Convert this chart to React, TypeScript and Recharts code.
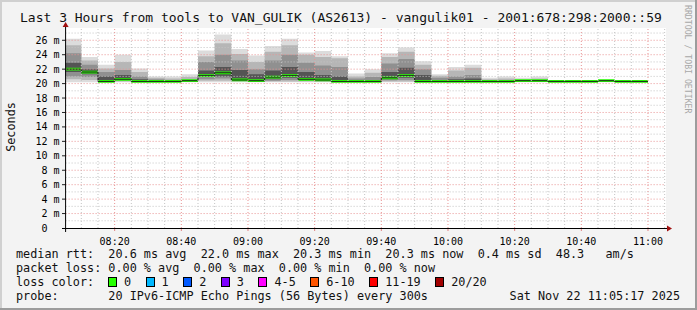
import React from 'react';
import { ComposedChart, Area, Line, XAxis, YAxis, ReferenceLine } from 'recharts';

// step start times (5 min steps), last entry closes the last step
const stepTimes = [
  '08:05', '08:10', '08:15', '08:20', '08:25', '08:30', '08:35', '08:40', '08:45', '08:50', '08:55',
  '09:00', '09:05', '09:10', '09:15', '09:20', '09:25', '09:30', '09:35', '09:40', '09:45', '09:50', '09:55',
  '10:00', '10:05', '10:10', '10:15', '10:20', '10:25', '10:30', '10:35', '10:40', '10:45', '10:50', '10:55',
  '11:00',
];

// rtt in ms, one value per step
const pingMax = [26.2, 23.7, 22.6, 24.0, 22.1, 21.0, 21.0, 21.3, 24.6, 26.8, 24.8, 23.9, 25.2, 26.2, 24.3, 24.5, 23.8, 21.4, 22.0, 24.2, 25.0, 23.1, 21.3, 22.3, 22.6, 20.8, 21.0, 20.8, 21.0, 20.5, 20.4, 20.5, 20.6, 20.4, 20.4];
const pingP90 = [25.3, 23.2, 22.1, 23.0, 21.6, 20.8, 20.7, 20.9, 23.8, 25.6, 24.1, 23.0, 24.4, 25.3, 24.0, 23.7, 23.5, 21.0, 21.5, 23.7, 24.4, 22.6, 21.1, 21.8, 22.2, 20.6, 20.7, 20.6, 20.7, 20.45, 20.35, 20.45, 20.5, 20.35, 20.35];
const pingP75 = [24.2, 22.6, 21.6, 21.9, 21.0, 20.6, 20.5, 20.6, 23.0, 24.0, 23.2, 22.0, 23.2, 24.0, 22.9, 22.5, 22.3, 20.7, 20.9, 22.8, 23.4, 22.0, 20.8, 21.0, 21.2, 20.5, 20.5, 20.5, 20.55, 20.4, 20.3, 20.4, 20.45, 20.3, 20.3];
const pingP60 = [22.9, 22.0, 21.0, 21.2, 20.6, 20.4, 20.4, 20.5, 21.8, 22.3, 21.9, 21.3, 21.8, 22.3, 21.6, 21.2, 21.0, 20.5, 20.5, 21.6, 22.2, 21.2, 20.5, 20.6, 20.7, 20.4, 20.4, 20.45, 20.45, 20.35, 20.3, 20.35, 20.4, 20.3, 20.3];
const pingMedian = [22.0, 21.6, 20.3, 20.6, 20.3, 20.3, 20.3, 20.4, 21.1, 21.5, 20.5, 20.4, 20.9, 21.1, 20.6, 20.5, 20.3, 20.3, 20.3, 20.8, 21.1, 20.3, 20.3, 20.3, 20.3, 20.3, 20.3, 20.4, 20.4, 20.3, 20.3, 20.3, 20.4, 20.3, 20.3];
const pingP40 = [21.6, 21.3, 20.28, 20.5, 20.28, 20.28, 20.28, 20.35, 20.9, 21.0, 20.4, 20.33, 20.6, 20.8, 20.45, 20.4, 20.28, 20.28, 20.28, 20.6, 20.8, 20.28, 20.28, 20.28, 20.28, 20.28, 20.28, 20.35, 20.35, 20.28, 20.28, 20.28, 20.35, 20.28, 20.28];
const pingP25 = [21.0, 20.9, 20.25, 20.4, 20.25, 20.25, 20.25, 20.3, 20.6, 20.7, 20.35, 20.3, 20.4, 20.5, 20.35, 20.33, 20.25, 20.25, 20.25, 20.45, 20.5, 20.25, 20.25, 20.25, 20.25, 20.25, 20.25, 20.3, 20.3, 20.25, 20.25, 20.25, 20.3, 20.25, 20.25];
const pingP10 = [20.6, 20.5, 20.2, 20.3, 20.2, 20.2, 20.2, 20.25, 20.4, 20.4, 20.3, 20.25, 20.3, 20.3, 20.28, 20.28, 20.2, 20.2, 20.2, 20.3, 20.3, 20.2, 20.2, 20.2, 20.2, 20.2, 20.2, 20.25, 20.25, 20.2, 20.2, 20.2, 20.25, 20.2, 20.2];
const pingMin = [20.2, 20.2, 20.1, 20.2, 20.1, 20.1, 20.1, 20.2, 20.2, 20.2, 20.2, 20.2, 20.2, 20.2, 20.2, 20.2, 20.1, 20.1, 20.1, 20.2, 20.2, 20.1, 20.1, 20.1, 20.1, 20.1, 20.1, 20.2, 20.2, 20.1, 20.1, 20.1, 20.2, 20.1, 20.1];

const xTickLabels = ['08:20', '08:40', '09:00', '09:20', '09:40', '10:00', '10:20', '10:40', '11:00'];
const yTicks = [0, 2, 4, 6, 8, 10, 12, 14, 16, 18, 20, 22, 24, 26];

const lossLabels = ['0', '1', '2', '3', '4-5', '6-10', '11-19', '20/20'];
const lossColors = ['#26ff00', '#00b8ff', '#0059ff', '#7e00ff', '#ff00ff', '#ff5500', '#ff0000', '#a10000'];

const toMin = (s: string) => {
  const [h, m] = s.split(':').map(Number);
  return (h - 8) * 60 + m;
};
const fmtMin = (v: number) => {
  const h = 8 + Math.floor(v / 60);
  const m = v % 60;
  return `${String(h).padStart(2, '0')}:${String(m).padStart(2, '0')}`;
};

const data = stepTimes.map((s, i) => {
  const k = Math.min(i, pingMedian.length - 1);
  return {
    t: toMin(s),
    min: pingMin[k], p10: pingP10[k], p25: pingP25[k], p40: pingP40[k],
    median: pingMedian[k],
    p60: pingP60[k], p75: pingP75[k], p90: pingP90[k], max: pingMax[k],
  };
});

const W = 697;
const H = 310;
const PLOT = { left: 65.6, right: 665.6, top: 28, bottom: 228 };
const T0 = 5 + 17 / 60;
const MONO = '"DejaVu Sans Mono", monospace';

const minorY: number[] = [];
for (let v = 1; v < 28; v += 2) minorY.push(v);
const majorY = yTicks.filter((v) => v > 0);
const majorX = xTickLabels.map(toMin);
const minorX: number[] = [];
for (let v = 10; v <= 185; v += 5) if (v % 20 !== 0) minorX.push(v);

const YTick = ({ y, payload }: any) => (
  <g>
    {payload.value !== 0 && <line x1={62} x2={PLOT.left} y1={y} y2={y} stroke="#222" />}
    <text x={payload.value === 0 ? 47.5 : 59.5} y={y + 3.5} textAnchor="end" fontFamily={MONO} fontSize={10} fill="#000">
      {payload.value === 0 ? '0' : `${payload.value} m`}
    </text>
  </g>
);

const XTick = ({ x, payload }: any) => (
  <g>
    <line x1={x} x2={x} y1={PLOT.bottom} y2={PLOT.bottom + 3} stroke="#e08080" />
    <text x={x} y={PLOT.bottom + 17} textAnchor="middle" fontFamily={MONO} fontSize={10} fill="#000">
      {fmtMin(payload.value)}
    </text>
  </g>
);

const smoke = [
  { lo: 'min', hi: 'max', fill: '#dcdcdc' },
  { lo: 'p10', hi: 'p90', fill: '#b6b6b6' },
  { lo: 'p25', hi: 'p75', fill: '#909090' },
  { lo: 'p40', hi: 'p60', fill: '#545454' },
];

const rowStyle: React.CSSProperties = {
  position: 'absolute', left: 16, fontFamily: MONO, fontSize: 11.8, whiteSpace: 'pre', color: '#111', lineHeight: '14px',
};

export default function App() {
  return (
    <div style={{ position: 'absolute', left: 0, top: 0, width: W, height: H, background: '#f3f3f3', overflow: 'hidden' }}>
      <div style={{ position: 'absolute', left: PLOT.left, top: PLOT.top, width: PLOT.right - PLOT.left, height: PLOT.bottom - PLOT.top, background: '#fff' }} />
      <ComposedChart width={W} height={H} data={data} margin={{ top: PLOT.top, right: W - PLOT.right, bottom: 62, left: 0 }} style={{ position: 'absolute', left: 0, top: 0 }}>
        <XAxis dataKey="t" type="number" domain={[T0, T0 + 180]} allowDataOverflow ticks={majorX} tick={<XTick />} axisLine={false} tickLine={false} height={20} />
        <YAxis type="number" domain={[0, 27.7]} allowDataOverflow ticks={yTicks} tick={<YTick />} axisLine={false} tickLine={false} width={PLOT.left} interval={0} />
        {smoke.map((s) => (
          <Area key={s.lo} dataKey={(d: any) => [d[s.lo], d[s.hi]]} type="stepAfter" fill={s.fill} fillOpacity={1} stroke="none" isAnimationActive={false} />
        ))}
        <Line dataKey="median" type="stepAfter" stroke="#202020" strokeWidth={1} dot={false} isAnimationActive={false} />
        <Area dataKey={(d: any) => [d.median - 0.19, d.median + 0.19]} type="stepAfter" fill="#26ff00" fillOpacity={1} stroke="none" isAnimationActive={false} />
        {minorY.map((v) => <ReferenceLine key={`my${v}`} y={v} stroke="#c4c4c4" strokeDasharray="1 2" />)}
        {minorX.map((v) => <ReferenceLine key={`mx${v}`} x={v} stroke="#c4c4c4" strokeDasharray="1 2" />)}
        {majorY.map((v) => <ReferenceLine key={`My${v}`} y={v} stroke="#e89494" strokeDasharray="1 2" />)}
        {majorX.map((v) => <ReferenceLine key={`Mx${v}`} x={v} stroke="#e89494" strokeDasharray="1 2" />)}
      </ComposedChart>

      <svg width={W} height={H} style={{ position: 'absolute', left: 0, top: 0, pointerEvents: 'none' }}>
        <line x1={62} x2={667} y1={PLOT.bottom + 0.5} y2={PLOT.bottom + 0.5} stroke="#000" />
        <polygon points={`667,${PLOT.bottom - 2.5} 672,${PLOT.bottom + 0.5} 667,${PLOT.bottom + 3.5}`} fill="#a01010" />
        <line x1={PLOT.left} x2={PLOT.left} y1={PLOT.bottom + 4} y2={27} stroke="#000" />
        <polygon points={`${PLOT.left - 3},27 ${PLOT.left},22 ${PLOT.left + 3},27`} fill="#a01010" />
        <rect x={0} y={0} width={W} height={2} fill="#d0d0d0" />
        <rect x={0} y={0} width={2} height={H} fill="#d0d0d0" />
        <rect x={W - 2} y={0} width={2} height={H} fill="#9c9c9c" />
        <rect x={0} y={H - 2} width={W} height={2} fill="#9c9c9c" />
        <text x={11} y={127} transform="rotate(-90 11 127)" textAnchor="middle" dominantBaseline="central" fontFamily={MONO} fontSize={11.8} fill="#111">Seconds</text>
        <text x={688} y={5} transform="rotate(90 688 5)" dominantBaseline="central" fontFamily={MONO} fontSize={8.2} fill="#a8a8a8">RRDTOOL / TOBI OETIKER</text>
      </svg>

      <div style={{ position: 'absolute', left: 20, top: 10, fontFamily: MONO, fontSize: 13, whiteSpace: 'pre', color: '#111', lineHeight: '16px' }}>
        Last 3 Hours from tools to VAN_GULIK (AS2613) - vangulik01 - 2001:678:298:2000::59
      </div>

      <div style={{ ...rowStyle, top: 247 }}>median rtt:  20.6 ms avg  22.0 ms max  20.3 ms min  20.3 ms now  0.4 ms sd  48.3   am/s</div>
      <div style={{ ...rowStyle, top: 261 }}>packet loss: 0.00 % avg  0.00 % max  0.00 % min  0.00 % now</div>
      <div style={{ ...rowStyle, top: 275 }}>loss color:</div>
      <div style={{ position: 'absolute', left: 108, top: 275, height: 14, display: 'flex', alignItems: 'center', fontFamily: MONO, fontSize: 11.8, whiteSpace: 'pre', color: '#111' }}>
        {lossLabels.map((l, i) => (
          <React.Fragment key={l}>
            <span style={{ display: 'inline-block', width: 7, height: 8, background: lossColors[i], border: '1px solid #000', marginRight: 7 }} />
            <span style={{ marginRight: 14.5 }}>{l}</span>
          </React.Fragment>
        ))}
      </div>
      <div style={{ ...rowStyle, top: 289 }}>probe:       20 IPv6-ICMP Echo Pings (56 Bytes) every 300s</div>
      <div style={{ ...rowStyle, left: undefined, right: 17, top: 289 }}>Sat Nov 22 11:05:17 2025</div>
    </div>
  );
}
